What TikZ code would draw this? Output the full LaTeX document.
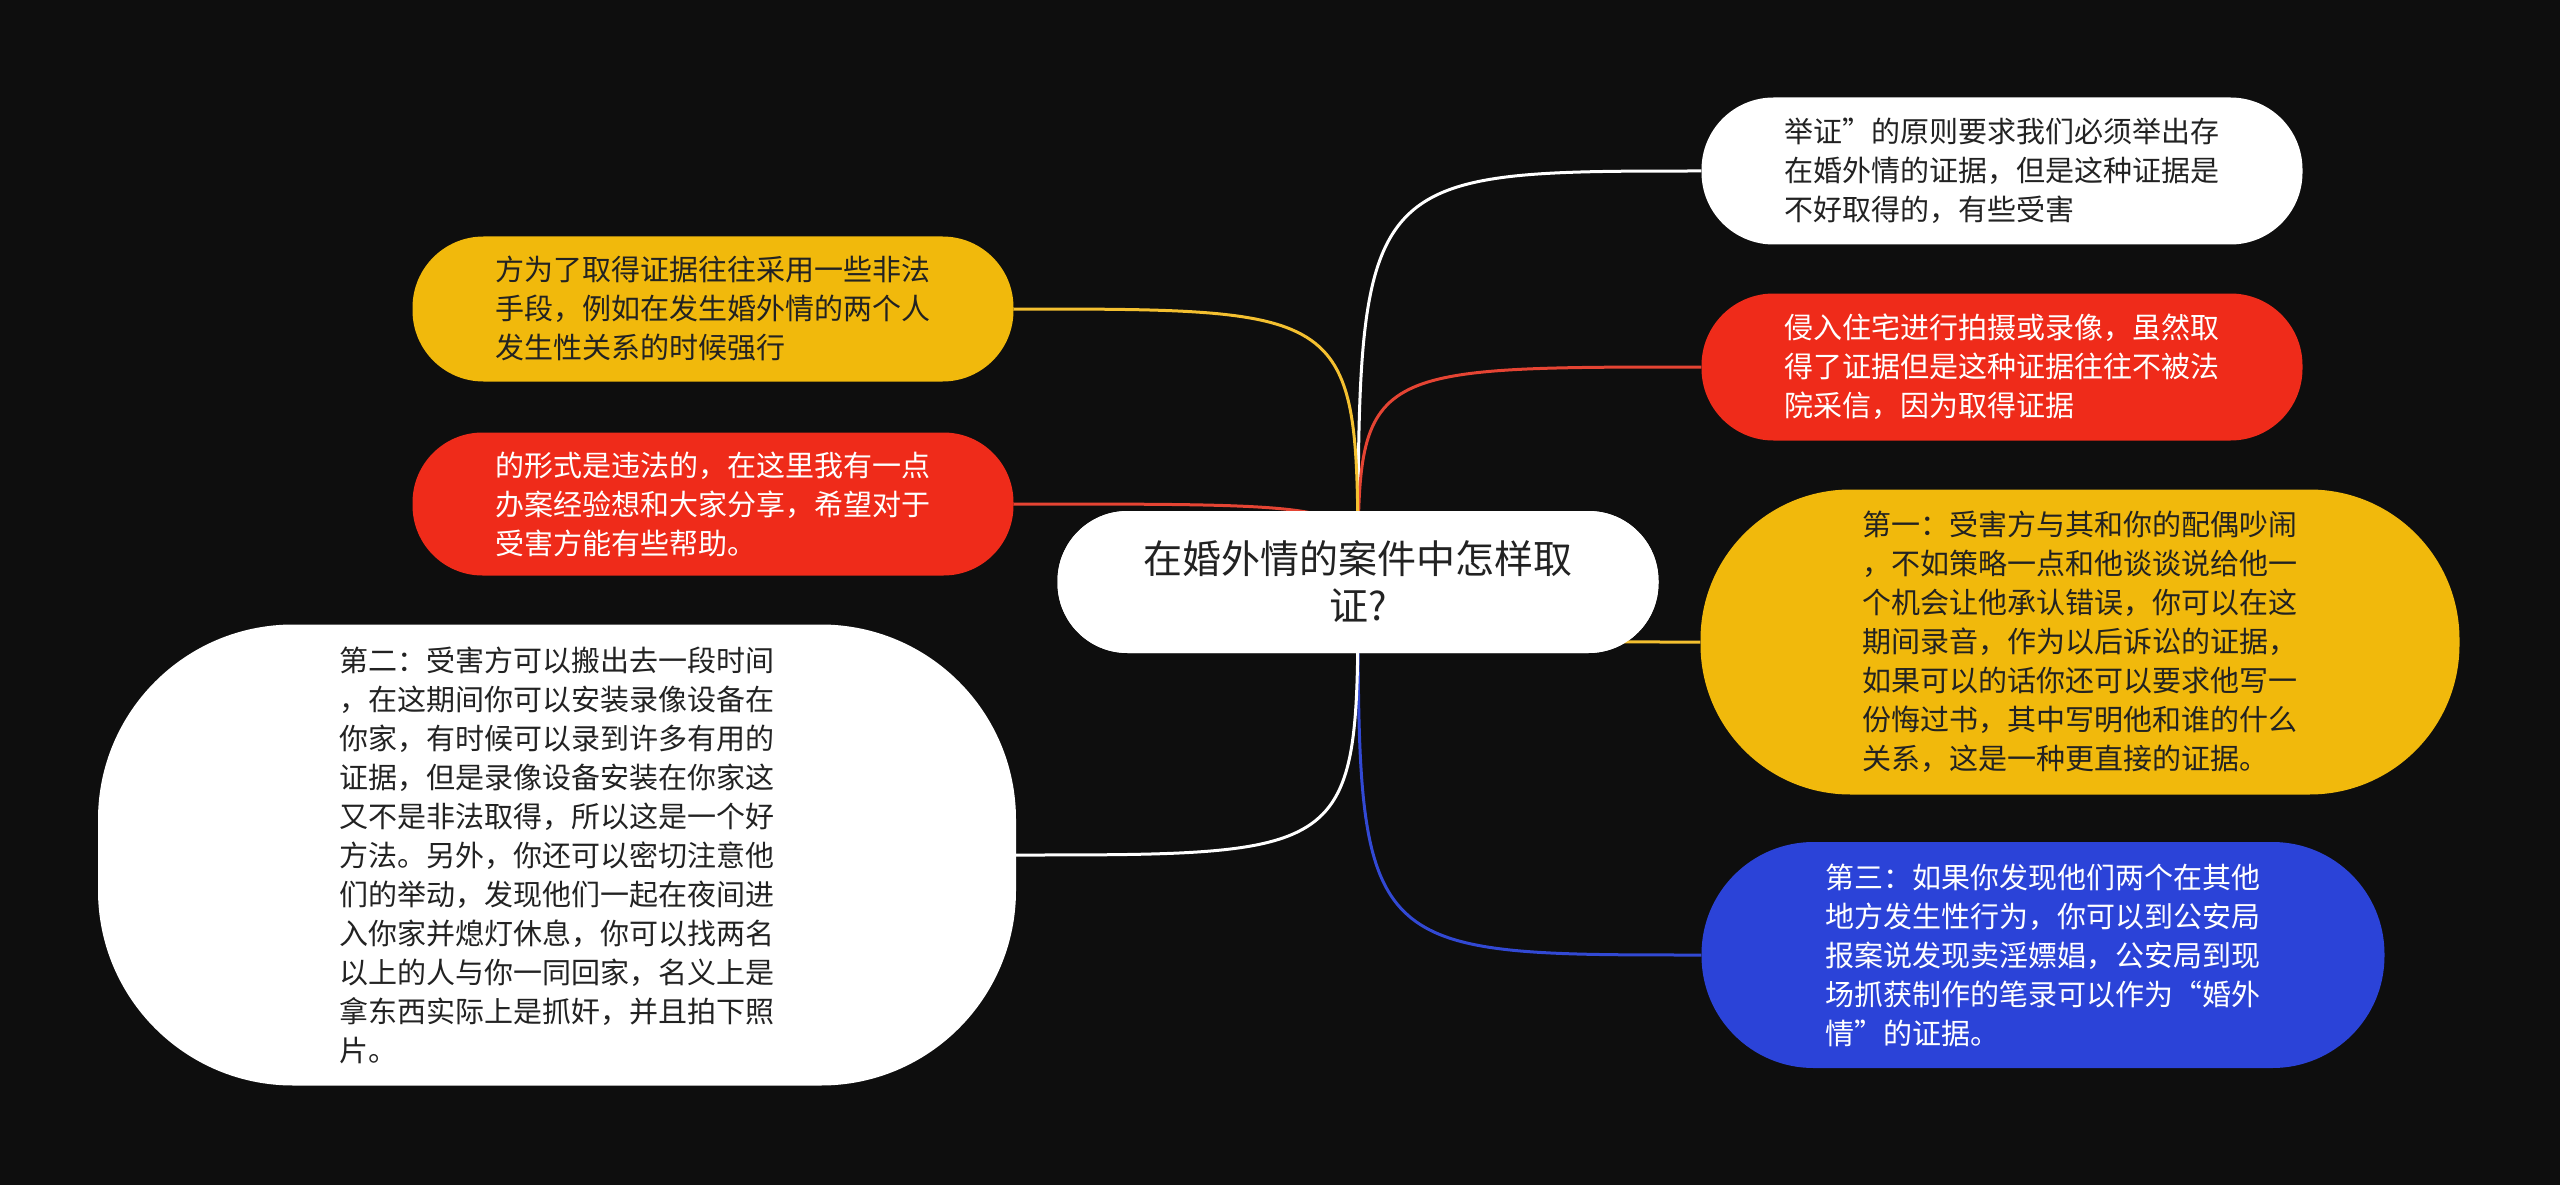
\documentclass[tikz,border=0pt]{standalone}
\usepackage{fontspec}
\setmainfont{Noto Sans CJK SC}
\definecolor{bg}{HTML}{0E0E0E}
\definecolor{myyellow}{HTML}{F1B90C}
\definecolor{myred}{HTML}{EF2B1A}
\definecolor{myblue}{HTML}{2B43D8}
\definecolor{lyellow}{HTML}{F4C030}
\definecolor{lred}{HTML}{E54433}
\definecolor{lblue}{HTML}{3249D4}
\definecolor{darktext}{HTML}{222222}
\begin{document}
\begin{tikzpicture}[x=1pt,y=-1pt,
  box/.style={inner sep=0pt, align=left, font=\fontsize{29}{39}\selectfont},
  wbox/.style={box, fill=white, text=darktext},
  ybox/.style={box, fill=myyellow, text=darktext},
  rbox/.style={box, fill=myred, text=white},
  bbox/.style={box, fill=myblue, text=white},
  link/.style={line width=3pt}]
\fill[bg] (0,0) rectangle (2560,1185);
\useasboundingbox (0,0) rectangle (2560,1185);

\node[wbox, rounded corners=70pt, minimum width=601pt, minimum height=142pt, align=center,
  font=\fontsize{39}{47}\selectfont] (root) at (1358,582) {在婚外情的案件中怎样取\\证?};

\node[wbox, rounded corners=72pt, minimum width=601pt, minimum height=147pt] (n1) at (2002,171)
 {举证”的原则要求我们必须举出存\\在婚外情的证据，但是这种证据是\\不好取得的，有些受害};
\node[rbox, rounded corners=72pt, minimum width=601pt, minimum height=147pt] (n2) at (2002,367)
 {侵入住宅进行拍摄或录像，虽然取\\得了证据但是这种证据往往不被法\\院采信，因为取得证据};
\node[ybox, rounded corners=150pt, minimum width=759pt, minimum height=305pt] (n3) at (2080,642)
 {第一：受害方与其和你的配偶吵闹\\，不如策略一点和他谈谈说给他一\\个机会让他承认错误，你可以在这\\期间录音，作为以后诉讼的证据，\\如果可以的话你还可以要求他写一\\份悔过书，其中写明他和谁的什么\\关系，这是一种更直接的证据。};
\node[bbox, rounded corners=112pt, minimum width=683pt, minimum height=226pt] (n4) at (2043,955)
 {第三：如果你发现他们两个在其他\\地方发生性行为，你可以到公安局\\报案说发现卖淫嫖娼，公安局到现\\场抓获制作的笔录可以作为“婚外\\情”的证据。};
\node[ybox, rounded corners=71pt, minimum width=601pt, minimum height=145pt] (n5) at (713,309)
 {方为了取得证据往往采用一些非法\\手段，例如在发生婚外情的两个人\\发生性关系的时候强行};
\node[rbox, rounded corners=70pt, minimum width=601pt, minimum height=143pt] (n6) at (713,504)
 {的形式是违法的，在这里我有一点\\办案经验想和大家分享，希望对于\\受害方能有些帮助。};
\node[wbox, rounded corners=195pt, minimum width=918pt, minimum height=461pt] (n7) at (557,855)
 {第二：受害方可以搬出去一段时间\\，在这期间你可以安装录像设备在\\你家，有时候可以录到许多有用的\\证据，但是录像设备安装在你家这\\又不是非法取得，所以这是一个好\\方法。另外，你还可以密切注意他\\们的举动，发现他们一起在夜间进\\入你家并熄灯休息，你可以找两名\\以上的人与你一同回家，名义上是\\拿东西实际上是抓奸，并且拍下照\\片。};

\draw[link, white]   (root.center) .. controls (root.center |- n1.west) .. (n1.west);
\draw[link, lred]    (root.center) .. controls (root.center |- n2.west) .. (n2.west);
\draw[link, lyellow] (root.center) .. controls (root.center |- n3.west) .. (n3.west);
\draw[link, lblue]   (root.center) .. controls (root.center |- n4.west) .. (n4.west);
\draw[link, lyellow] (root.center) .. controls (root.center |- n5.east) .. (n5.east);
\draw[link, lred]    (root.center) .. controls (root.center |- n6.east) .. (n6.east);
\draw[link, white]   (root.center) .. controls (root.center |- n7.east) .. (n7.east);

\node[wbox, rounded corners=70pt, minimum width=601pt, minimum height=142pt, align=center,
  font=\fontsize{39}{47}\selectfont] (rootfront) at (1358,582) {在婚外情的案件中怎样取\\证?};
\end{tikzpicture}
\end{document}
